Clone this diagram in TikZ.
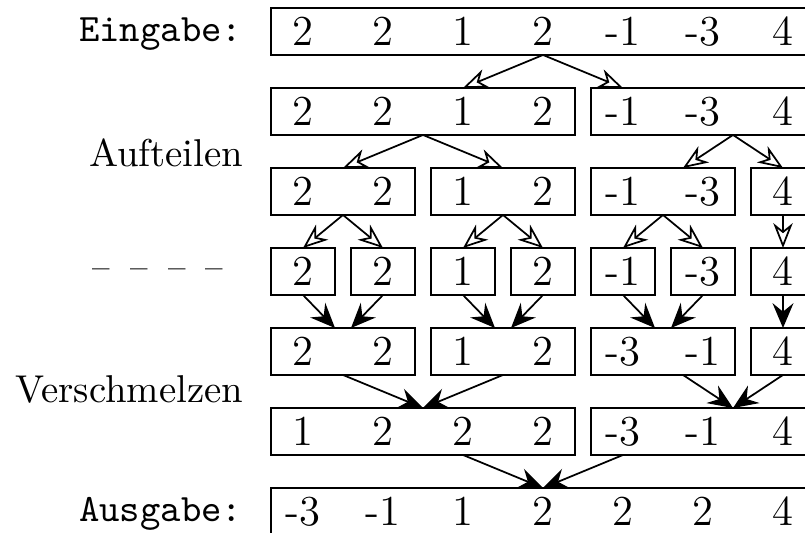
\documentclass[tikz,border=0pt]{standalone}
\usetikzlibrary{arrows.meta,calc}
\begin{document}
\begin{tikzpicture}[x=0.2577pt,y=-0.2577pt,
  cellbox/.style={draw, line width=0.5pt, minimum height=12.1pt, inner sep=0pt, outer sep=0pt},
  digit/.style={anchor=base, inner sep=0pt, font=\fontsize{11}{13}\selectfont},
  splitarr/.style={line width=0.45pt, -{Stealth[open, length=6.4pt, width=5pt, inset=2pt]}},
  mergearr/.style={line width=0.45pt, -{Stealth[length=6.4pt, width=5.4pt, inset=2.2pt]}},
  lab/.style={anchor=base east, inner sep=0pt}]
\useasboundingbox (0,0) rectangle (805,533);
\newcommand{\rowbox}[4]{%
  \node[cellbox, minimum width={(80*(#4-#3)+64)*0.2577pt}] (#1) at ({303+40*(#3+#4)}, {#2+23.5}) {};}
% boxes
\rowbox{b1}{8}{0}{6}
\rowbox{b2a}{88}{0}{3}\rowbox{b2b}{88}{4}{6}
\rowbox{b3a}{168}{0}{1}\rowbox{b3b}{168}{2}{3}\rowbox{b3c}{168}{4}{5}\rowbox{b3d}{168}{6}{6}
\foreach \i in {0,...,6} {\rowbox{b4-\i}{248}{\i}{\i}}
\rowbox{b5a}{328}{0}{1}\rowbox{b5b}{328}{2}{3}\rowbox{b5c}{328}{4}{5}\rowbox{b5d}{328}{6}{6}
\rowbox{b6a}{408}{0}{3}\rowbox{b6b}{408}{4}{6}
\rowbox{b7}{488}{0}{6}
% digits
\foreach \d [count=\i from 0] in {2,2,1,2,-1,-3,4} {
  \node[digit] (d1-\i) at ({303+80*\i}, 45.5) {\d};
  \node[digit] (d2-\i) at ({303+80*\i}, 125.5) {\d};
  \node[digit] (d3-\i) at ({303+80*\i}, 205.5) {\d};
  \node[digit] (d4-\i) at ({303+80*\i}, 285.5) {\d};}
\foreach \d [count=\i from 0] in {2,2,1,2,-3,-1,4}
  \node[digit] (d5-\i) at ({303+80*\i}, 365.5) {\d};
\foreach \d [count=\i from 0] in {1,2,2,2,-3,-1,4}
  \node[digit] (d6-\i) at ({303+80*\i}, 445.5) {\d};
\foreach \d [count=\i from 0] in {-3,-1,1,2,2,2,4}
  \node[digit] (d7-\i) at ({303+80*\i}, 525.5) {\d};
% labels
\node[lab, font=\ttfamily] (lin) at (243,42) {Eingabe:};
\node[lab] (lsplit) at (244,167) {Aufteilen};
\node[lab] (ldash) at (224,265) {\scalebox{0.6}[1]{\_}\hspace{5.2pt}\scalebox{0.6}[1]{\_}\hspace{5.2pt}\scalebox{0.6}[1]{\_}\hspace{5.2pt}\scalebox{0.6}[1]{\_}};
\node[lab] (lmerge) at (244,403) {Verschmelzen};
\node[lab, font=\ttfamily] (lout) at (243,522) {Ausgabe:};
% split arrows
\draw[splitarr] (b1.south) -- ($(b2a.north)+(40,0)$);
\draw[splitarr] (b1.south) -- ($(b2b.north)+(-80,0)$);
\draw[splitarr] (b2a.south) -- (b3a.north);
\draw[splitarr] (b2a.south) -- (b3b.north);
\coordinate (s2b) at ($(b2b.south)+(30,0)$);
\draw[splitarr] (s2b) -- ($(b3c.north)+(20,0)$);
\draw[splitarr] (s2b) -- (b3d.north);
\draw[splitarr] (b3a.south) -- (b4-0.north);
\draw[splitarr] (b3a.south) -- (b4-1.north);
\draw[splitarr] (b3b.south) -- (b4-2.north);
\draw[splitarr] (b3b.south) -- (b4-3.north);
\draw[splitarr] (b3c.south) -- (b4-4.north);
\draw[splitarr] (b3c.south) -- (b4-5.north);
\draw[splitarr] (b3d.south) -- (b4-6.north);
% merge arrows
\draw[mergearr] (b4-0.south) -- ($(b5a.north)+(-8,0)$);
\draw[mergearr] (b4-1.south) -- ($(b5a.north)+(8,0)$);
\draw[mergearr] (b4-2.south) -- ($(b5b.north)+(-8,0)$);
\draw[mergearr] (b4-3.south) -- ($(b5b.north)+(8,0)$);
\draw[mergearr] (b4-4.south) -- ($(b5c.north)+(-8,0)$);
\draw[mergearr] (b4-5.south) -- ($(b5c.north)+(8,0)$);
\draw[mergearr] (b4-6.south) -- (b5d.north);
\draw[mergearr] (b5a.south) -- (b6a.north);
\draw[mergearr] (b5b.south) -- (b6a.north);
\coordinate (m6b) at ($(b6b.north)+(30,0)$);
\draw[mergearr] ($(b5c.south)+(20,0)$) -- (m6b);
\draw[mergearr] (b5d.south) -- (m6b);
\draw[mergearr] ($(b6a.south)+(40,0)$) -- (b7.north);
\draw[mergearr] ($(b6b.south)+(-80,0)$) -- (b7.north);
\end{tikzpicture}
\end{document}
